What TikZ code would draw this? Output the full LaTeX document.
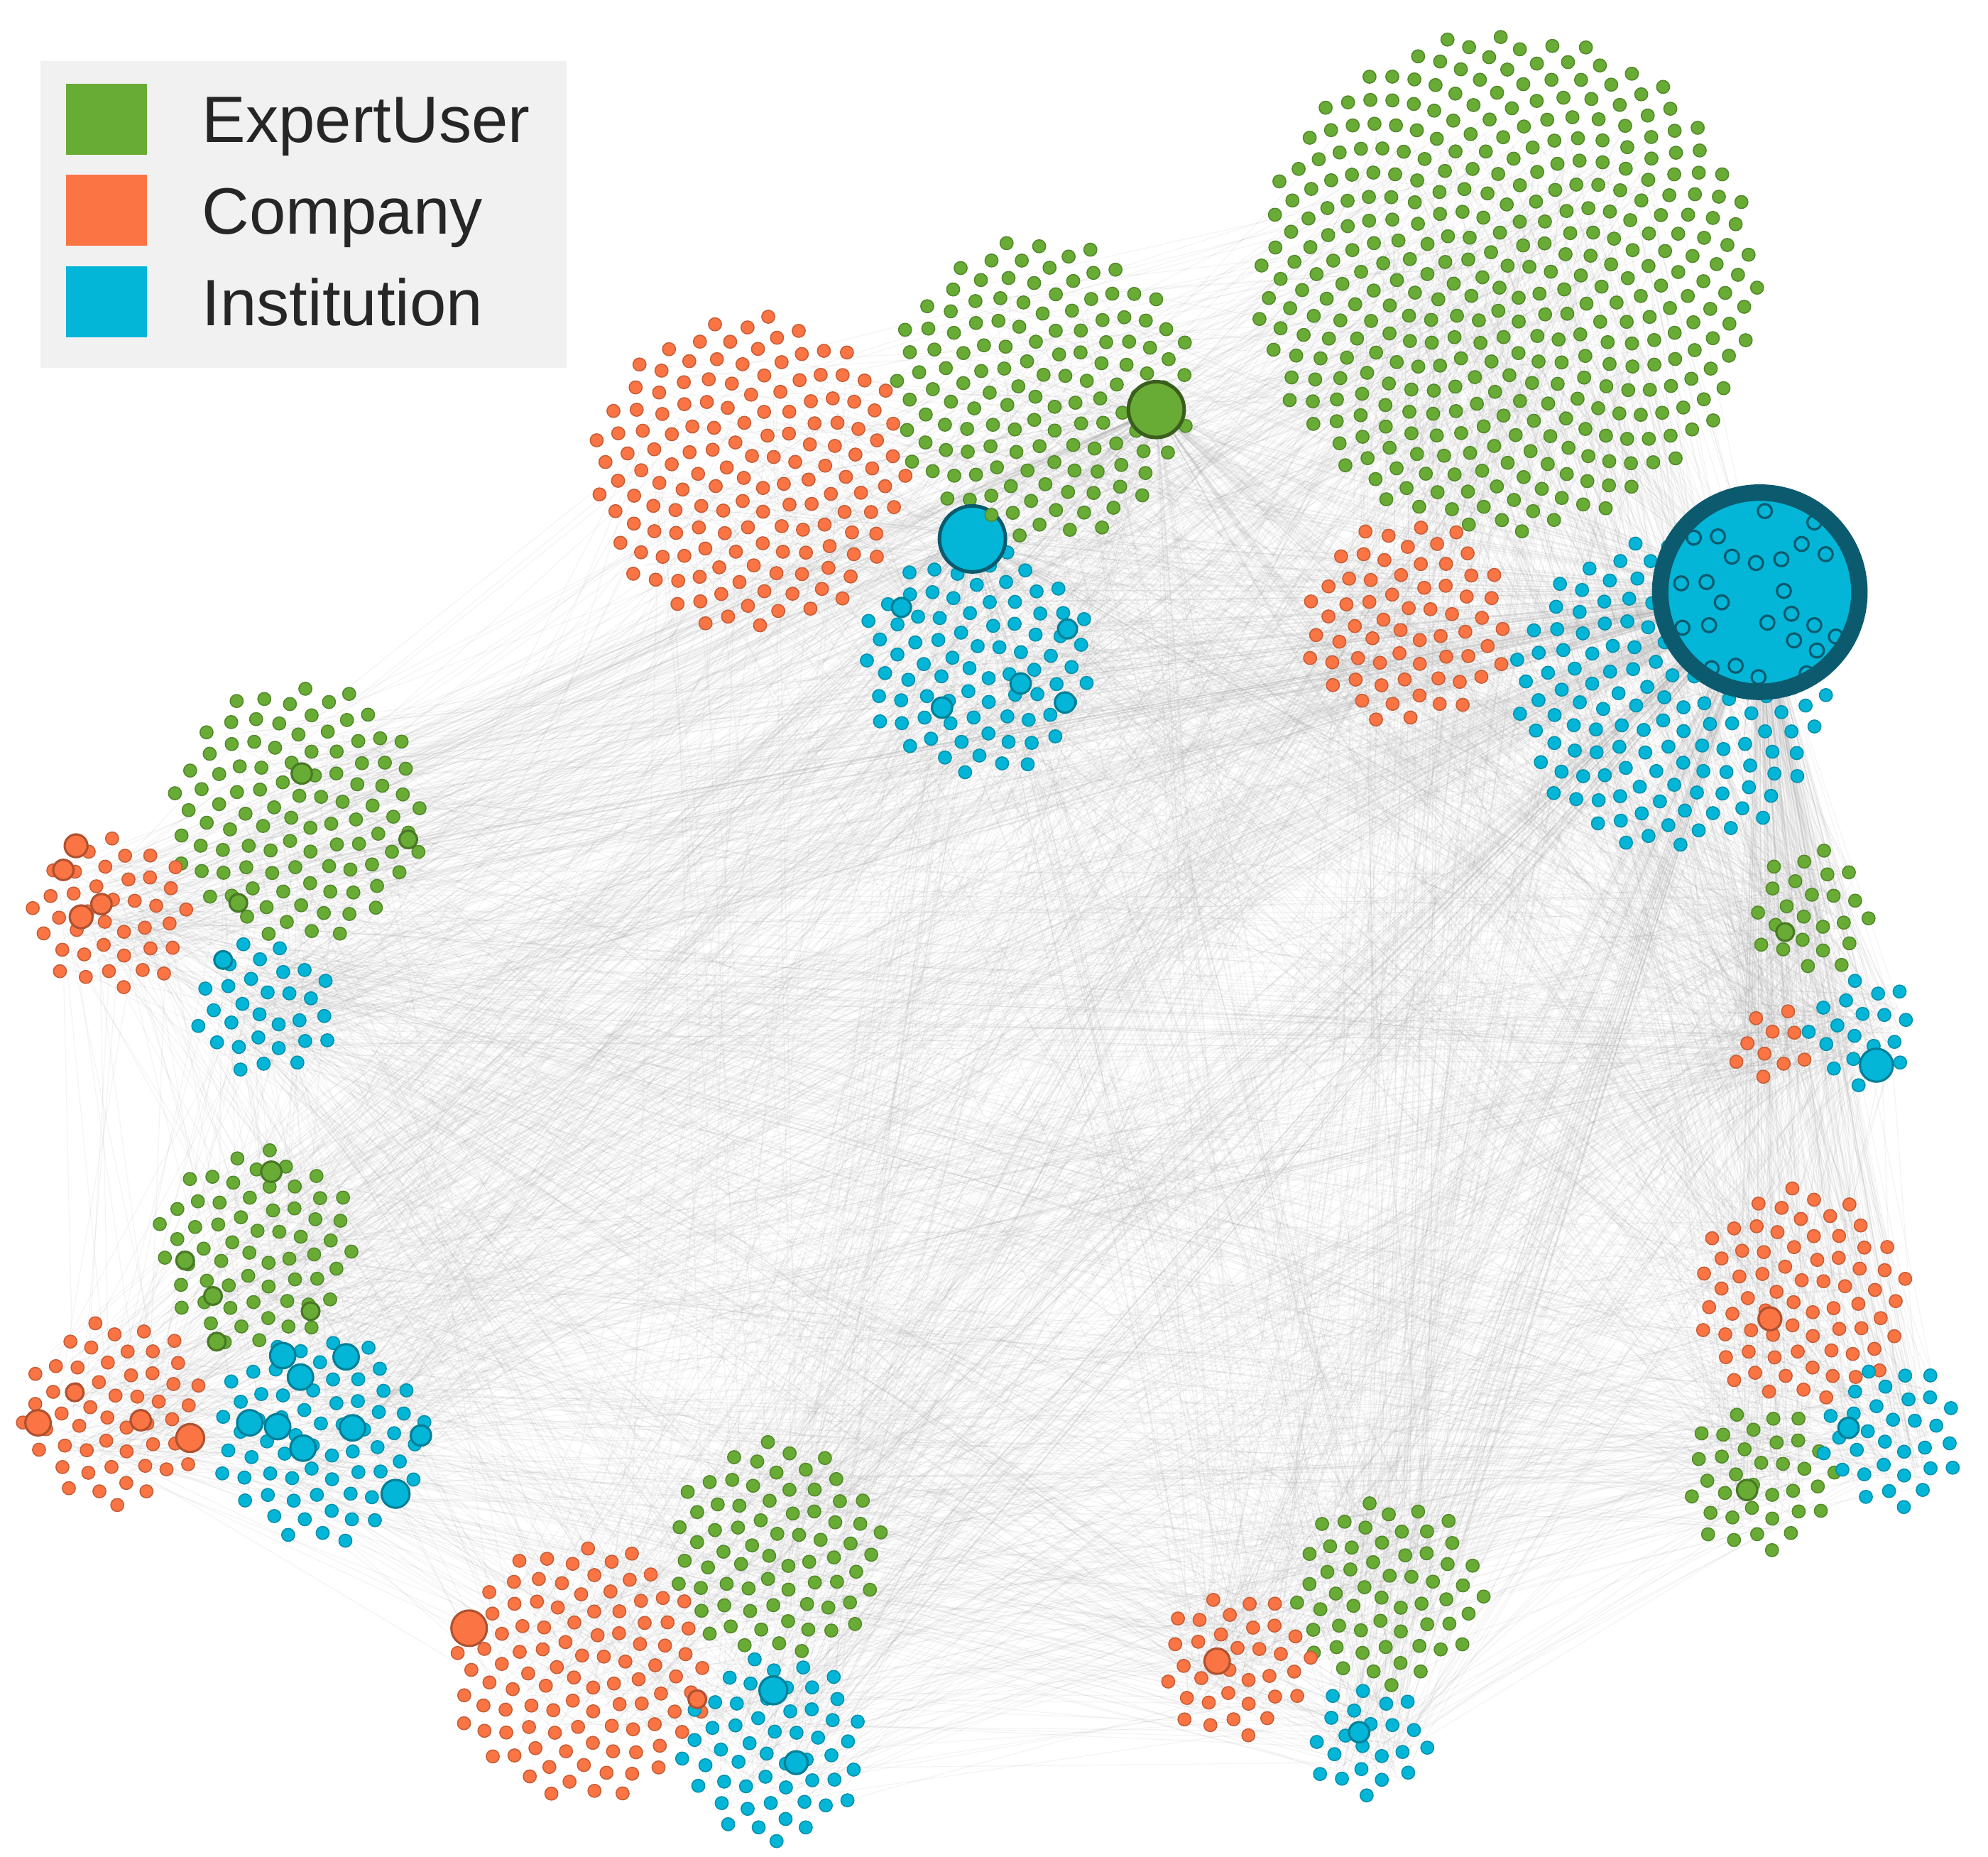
\documentclass[tikz,border=0pt]{standalone}
\usepackage{fontspec}
\setmainfont{Liberation Sans}
\usetikzlibrary{positioning}
\pgfdeclarelayer{background}
\pgfsetlayers{background,main}

\definecolor{expert}{HTML}{68AB35}
\definecolor{company}{HTML}{FA7444}
\definecolor{institution}{HTML}{03B5D7}
\definecolor{hubring}{HTML}{0C5A6E}
\definecolor{legendbg}{HTML}{F1F1F1}

% group / centre x / centre y / number of nodes / colour
\def\grouplist{1/1188/222/377/expert, 2/1110/492/65/company, 3/1318/545/150/institution,
  4/592/372/150/company, 5/822/308/138/expert, 6/770/522/81/institution,
  7/235/640/100/expert, 8/88/722/39/company, 9/210/795/30/institution,
  10/202/983/61/expert, 11/90/1113/53/company, 12/252/1135/68/institution,
  13/612/1222/71/expert, 14/458/1318/100/company, 15/610/1378/53/institution,
  16/1095/1255/56/expert, 17/975/1312/35/company, 18/1080/1372/22/institution,
  19/1428/718/24/expert, 20/1468/812/19/institution, 21/1397/826/10/company,
  22/1420/1022/71/company, 23/1388/1166/35/expert, 24/1492/1132/32/institution}
\def\grpcount{{377,65,150,150,138,81,100,39,30,61,53,68,71,100,53,56,35,22,24,19,10,71,35,32}}

% sunflower packing of one group of nodes
\newcommand{\dotcloud}[4]{%
  \foreach \i in {1,...,#3}{
    \pgfmathsetmacro{\turn}{\i*0.381966}
    \pgfmathsetmacro{\ang}{360*(\turn-floor(\turn))}
    \pgfmathsetmacro{\rad}{10.2*sqrt(\i-0.5)}
    \path[clouddot=#4] (#1,#2) ++(\ang:\rad) circle (5.1);
  }
}

\begin{document}
\begin{tikzpicture}[x=0.01cm, y=-0.01cm,
    clouddot/.style={fill=#1, draw=#1!80!black, line width=0.25pt},
    bigdot/.style={circle, inner sep=0pt, fill=#1, draw=#1!70!black, line width=0.5pt},
    link/.style={draw=gray!80, line width=0.2pt, opacity=0.11},
    keybox/.style={rectangle, inner sep=0pt, minimum width=0.64cm, minimum height=0.56cm},
    keytext/.style={inner sep=0pt, text height=0.37cm, text depth=0pt, text=black!85,
      font=\fontsize{14.7pt}{17pt}\selectfont}
]
\useasboundingbox (0,0) rectangle (1568,1464);

% groups of nodes
\foreach \n/\x/\y/\c/\s in \grouplist {
  \coordinate (grp\n) at (\x,\y);
  \dotcloud{\x}{\y}{\c}{\s}
}

% nodes with many links
\node[bigdot=institution, draw=hubring, line width=3.7pt, minimum size=1.57cm] (hub) at (1388,467) {};
\foreach \x/\y in {1392/403, 1431/412, 1355/423, 1336/424, 1421/429, 1440/437, 1366/439,
  1385/444, 1405/441, 1326/460, 1346/459, 1407/466, 1358/475, 1413/484, 1394/491,
  1431/493, 1327/495, 1348/493, 1448/502, 1415/505, 1433/513, 1369/525, 1350/527,
  1387/534, 1425/531}
  \draw[hubring, line width=0.5pt] (\x,\y) circle (5.5);

\node[bigdot=expert, draw=expert!55!black, line width=0.8pt, minimum size=0.44cm] (hubuser) at (912,323) {};
\node[bigdot=institution, draw=hubring, line width=0.8pt, minimum size=0.52cm] (hubinst) at (767,425) {};
\path[clouddot=expert] (782,406) circle (5.1);

\foreach \x/\y/\d/\c in {711/479/0.15/institution, 842/496/0.15/institution,
  805/539/0.16/institution, 743/558/0.16/institution, 840/554/0.16/institution,
  60/667/0.18/company, 50/686/0.16/company, 64/723/0.18/company, 80/713/0.16/company,
  238/610/0.16/expert, 322/662/0.14/expert, 188/712/0.14/expert, 176/757/0.14/institution,
  214/924/0.16/expert, 146/994/0.14/expert, 168/1022/0.14/expert, 245/1034/0.14/expert,
  171/1058/0.14/expert, 30/1122/0.2/company, 150/1134/0.22/company, 111/1120/0.16/company,
  59/1098/0.14/company, 223/1069/0.2/institution, 273/1070/0.2/institution,
  237/1086/0.2/institution, 197/1122/0.2/institution, 219/1125/0.2/institution,
  278/1126/0.2/institution, 239/1142/0.2/institution, 312/1178/0.22/institution,
  332/1132/0.16/institution, 370/1284/0.28/company, 610/1333/0.22/institution,
  628/1390/0.18/institution, 550/1340/0.14/company, 960/1310/0.2/company,
  1072/1366/0.16/institution, 1480/840/0.26/institution, 1396/1040/0.18/company,
  1378/1175/0.16/expert, 1458/1126/0.16/institution, 1408/735/0.14/expert}
  \node[bigdot=\c, minimum size=\d cm] at (\x,\y) {};

% links
\begin{pgfonlayer}{background}
\pgfmathsetseed{2615}
\foreach \k in {1,...,1800}{
  \pgfmathrandominteger{\ga}{1}{24}
  \pgfmathrandominteger{\gb}{1}{24}
  \pgfmathsetmacro{\ra}{7*sqrt(\grpcount[\ga-1])}
  \pgfmathsetmacro{\rb}{7*sqrt(\grpcount[\gb-1])}
  \draw[link] ([shift={(rand*\ra,rand*\ra)}]grp\ga) -- ([shift={(rand*\rb,rand*\rb)}]grp\gb);
}
\foreach \k in {1,...,600}{
  \pgfmathrandominteger{\gb}{1}{24}
  \pgfmathsetmacro{\rb}{7*sqrt(\grpcount[\gb-1])}
  \draw[link] ([shift={(rand*50,rand*50)}]hub) -- ([shift={(rand*\rb,rand*\rb)}]grp\gb);
}
\foreach \k in {1,...,500}{
  \pgfmathrandominteger{\gb}{1}{24}
  \pgfmathsetmacro{\rb}{7*sqrt(\grpcount[\gb-1])}
  \draw[link] ([shift={(rand*120,rand*120)}]grp1) -- ([shift={(rand*\rb,rand*\rb)}]grp\gb);
}
\foreach \k in {1,...,150}{
  \pgfmathrandominteger{\gb}{1}{24}
  \pgfmathsetmacro{\rb}{7*sqrt(\grpcount[\gb-1])}
  \draw[link] (hubinst) -- ([shift={(rand*\rb,rand*\rb)}]grp\gb);
  \draw[link] (hubuser) -- ([shift={(rand*\rb,rand*\rb)}]grp\gb);
}
\end{pgfonlayer}

% legend
\node[rectangle, fill=legendbg, minimum width=4.15cm, minimum height=2.42cm] (legend) at (239.5,169) {};
\node[keybox, fill=expert] (keyexpert) at (84,94) {};
\node[keybox, fill=company] (keycompany) at (84,166) {};
\node[keybox, fill=institution] (keyinst) at (84,238) {};
\node[keytext, right=0.42cm of keyexpert] (labexpert) {ExpertUser};
\node[keytext, right=0.42cm of keycompany] (labcompany) {Company};
\node[keytext, right=0.42cm of keyinst] (labinst) {Institution};
\end{tikzpicture}
\end{document}
